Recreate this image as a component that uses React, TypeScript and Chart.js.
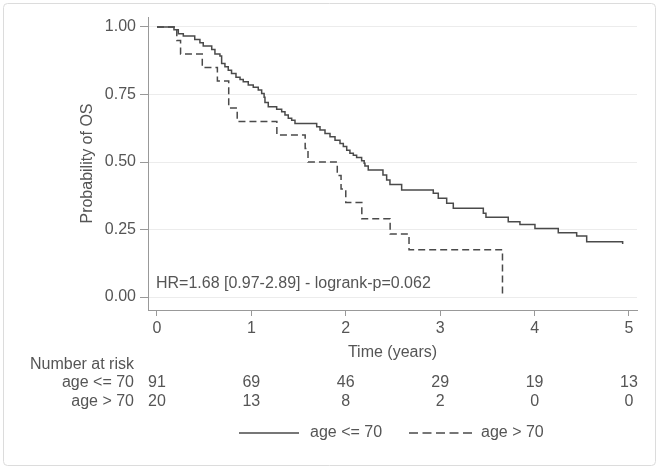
import { useEffect, useRef } from "react";
import { Chart, registerables } from "chart.js";

Chart.register(...registerables);

const FONT = '"Liberation Sans", Arial, sans-serif';
const TEXT = "#555555";
const LINE = "#4a4a4a";

// Kaplan-Meier step data (time in years, survival probability)
const solidT = [0, 0.18, 0.226, 0.279, 0.40, 0.455, 0.49, 0.58, 0.614, 0.667, 0.685, 0.72, 0.755, 0.79, 0.837, 0.88, 0.914, 0.967, 1.02, 1.073, 1.109, 1.135, 1.144, 1.179, 1.268, 1.321, 1.356, 1.391, 1.427, 1.462, 1.692, 1.727, 1.78, 1.833, 1.886, 1.939, 1.974, 2.01, 2.044, 2.08, 2.115, 2.168, 2.195, 2.203, 2.238, 2.394, 2.433, 2.468, 2.592, 2.927, 2.98, 3.069, 3.139, 3.457, 3.485, 3.721, 3.845, 4.004, 4.251, 4.446, 4.552, 4.933];
const solidS = [1, 0.99, 0.975, 0.967, 0.954, 0.942, 0.93, 0.917, 0.9, 0.893, 0.865, 0.853, 0.84, 0.828, 0.814, 0.806, 0.797, 0.785, 0.777, 0.767, 0.754, 0.74, 0.72, 0.705, 0.695, 0.686, 0.674, 0.662, 0.655, 0.643, 0.631, 0.619, 0.606, 0.594, 0.581, 0.569, 0.557, 0.544, 0.532, 0.525, 0.517, 0.505, 0.495, 0.485, 0.47, 0.452, 0.433, 0.417, 0.396, 0.384, 0.366, 0.347, 0.329, 0.31, 0.295, 0.279, 0.269, 0.254, 0.238, 0.226, 0.205, 0.196];

const dashT = [0, 0.21, 0.25, 0.48, 0.64, 0.76, 0.85, 1.27, 1.57, 1.6, 1.91, 1.95, 2.0, 2.17, 2.47, 2.67, 3.66];
const dashS = [1, 0.95, 0.9, 0.85, 0.8, 0.7, 0.65, 0.6, 0.55, 0.5, 0.45, 0.4, 0.35, 0.29, 0.233, 0.175, 0];

const xTicks = [0, 1, 2, 3, 4, 5];
const yTicks = [0, 0.25, 0.5, 0.75, 1];
const groupLabels = ["age <= 70", "age > 70"];
const riskLow = [91, 69, 46, 29, 19, 13];
const riskHigh = [20, 13, 8, 2, 0, 0];
const xTitle = "Time (years)";
const yTitle = "Probability of OS";
const riskTitle = "Number at risk";
const statText = "HR=1.68 [0.97-2.89] - logrank-p=0.062";

const extrasPlugin = {
  id: "kmExtras",
  beforeDraw(chart: any) {
    const ctx = chart.ctx;
    ctx.save();
    ctx.fillStyle = "#ffffff";
    ctx.fillRect(0, 0, chart.width, chart.height);
    ctx.strokeStyle = "#dcdcdc";
    ctx.lineWidth = 1;
    ctx.beginPath();
    if (ctx.roundRect) ctx.roundRect(3.5, 3.5, 652, 462, 4);
    else ctx.rect(3.5, 3.5, 652, 462);
    ctx.stroke();
    ctx.restore();
  },
  afterDraw(chart: any) {
    const ctx = chart.ctx;
    const xs = chart.scales.x;
    const ys = chart.scales.y;
    ctx.save();
    ctx.font = `16px ${FONT}`;
    ctx.fillStyle = TEXT;
    ctx.textBaseline = "middle";

    // statistic text inside plot
    ctx.textAlign = "left";
    ctx.fillText(statText, xs.getPixelForValue(0) - 1, ys.getPixelForValue(0.048));

    // number at risk table
    const labelRight = 134;
    ctx.textAlign = "right";
    ctx.fillText(riskTitle, labelRight, 365);
    ctx.fillText(groupLabels[0], labelRight, 383);
    ctx.fillText(groupLabels[1], labelRight, 402);
    ctx.textAlign = "center";
    xTicks.forEach((t, i) => {
      const px = xs.getPixelForValue(t);
      ctx.fillText(String(riskLow[i]), px, 383);
      ctx.fillText(String(riskHigh[i]), px, 402);
    });

    // legend
    const ly = 433;
    ctx.strokeStyle = LINE;
    ctx.lineWidth = 1.5;
    ctx.beginPath();
    ctx.moveTo(239, ly);
    ctx.lineTo(299, ly);
    ctx.stroke();
    ctx.textAlign = "left";
    ctx.fillText(groupLabels[0], 310, ly);
    ctx.setLineDash([9, 4.5]);
    ctx.beginPath();
    ctx.moveTo(409, ly);
    ctx.lineTo(473, ly);
    ctx.stroke();
    ctx.setLineDash([]);
    ctx.fillText(groupLabels[1], 481, ly);
    ctx.restore();
  },
};

export default function App() {
  const ref = useRef<HTMLCanvasElement>(null);
  useEffect(() => {
    if (!ref.current) return;
    const font = { family: FONT, size: 16 };
    const chart = new Chart(ref.current, {
      type: "line",
      data: {
        datasets: [
          {
            label: groupLabels[0],
            data: solidT.map((t, i) => ({ x: t, y: solidS[i] })),
            borderColor: LINE,
            borderWidth: 1.5,
            stepped: "before",
            pointRadius: 0,
            fill: false,
          },
          {
            label: groupLabels[1],
            data: dashT.map((t, i) => ({ x: t, y: dashS[i] })),
            borderColor: LINE,
            borderWidth: 1.5,
            borderDash: [7, 4],
            stepped: "before",
            pointRadius: 0,
            fill: false,
          },
        ],
      },
      options: {
        animation: false,
        responsive: false,
        layout: { padding: { left: 74, top: 17, right: 23, bottom: 104 } },
        plugins: { legend: { display: false }, tooltip: { enabled: false } },
        scales: {
          x: {
            type: "linear",
            min: -0.095,
            max: 5.085,
            afterBuildTicks: (s: any) => {
              s.ticks = xTicks.map((v) => ({ value: v }));
            },
            afterFit: (s: any) => {
              s.height = 56;
            },
            grid: { drawOnChartArea: false, tickLength: 6, tickColor: "#999999" },
            border: { color: "#999999" },
            ticks: { font, color: TEXT, padding: 3, maxRotation: 0, autoSkip: false },
            title: { display: true, text: xTitle, font, color: TEXT, padding: { top: 4, bottom: 4 } },
          },
          y: {
            type: "linear",
            min: -0.048,
            max: 1.037,
            afterBuildTicks: (s: any) => {
              s.ticks = yTicks.map((v) => ({ value: v }));
            },
            afterFit: (s: any) => {
              s.width = 74;
            },
            grid: { color: "#ececec", tickLength: 8, tickColor: "#999999" },
            border: { color: "#999999" },
            ticks: {
              font,
              color: TEXT,
              padding: 4,
              autoSkip: false,
              callback: (v: any) => Number(v).toFixed(2),
            },
            title: { display: true, text: yTitle, font, color: TEXT, padding: { top: 4, bottom: 4 } },
          },
        },
      },
      plugins: [extrasPlugin],
    } as any);
    return () => chart.destroy();
  }, []);
  return (
    <div style={{ position: "fixed", left: 0, top: 0, width: 660, height: 470, background: "#fff" }}>
      <canvas ref={ref} width={660} height={470} style={{ display: "block", width: 660, height: 470 }} />
    </div>
  );
}
